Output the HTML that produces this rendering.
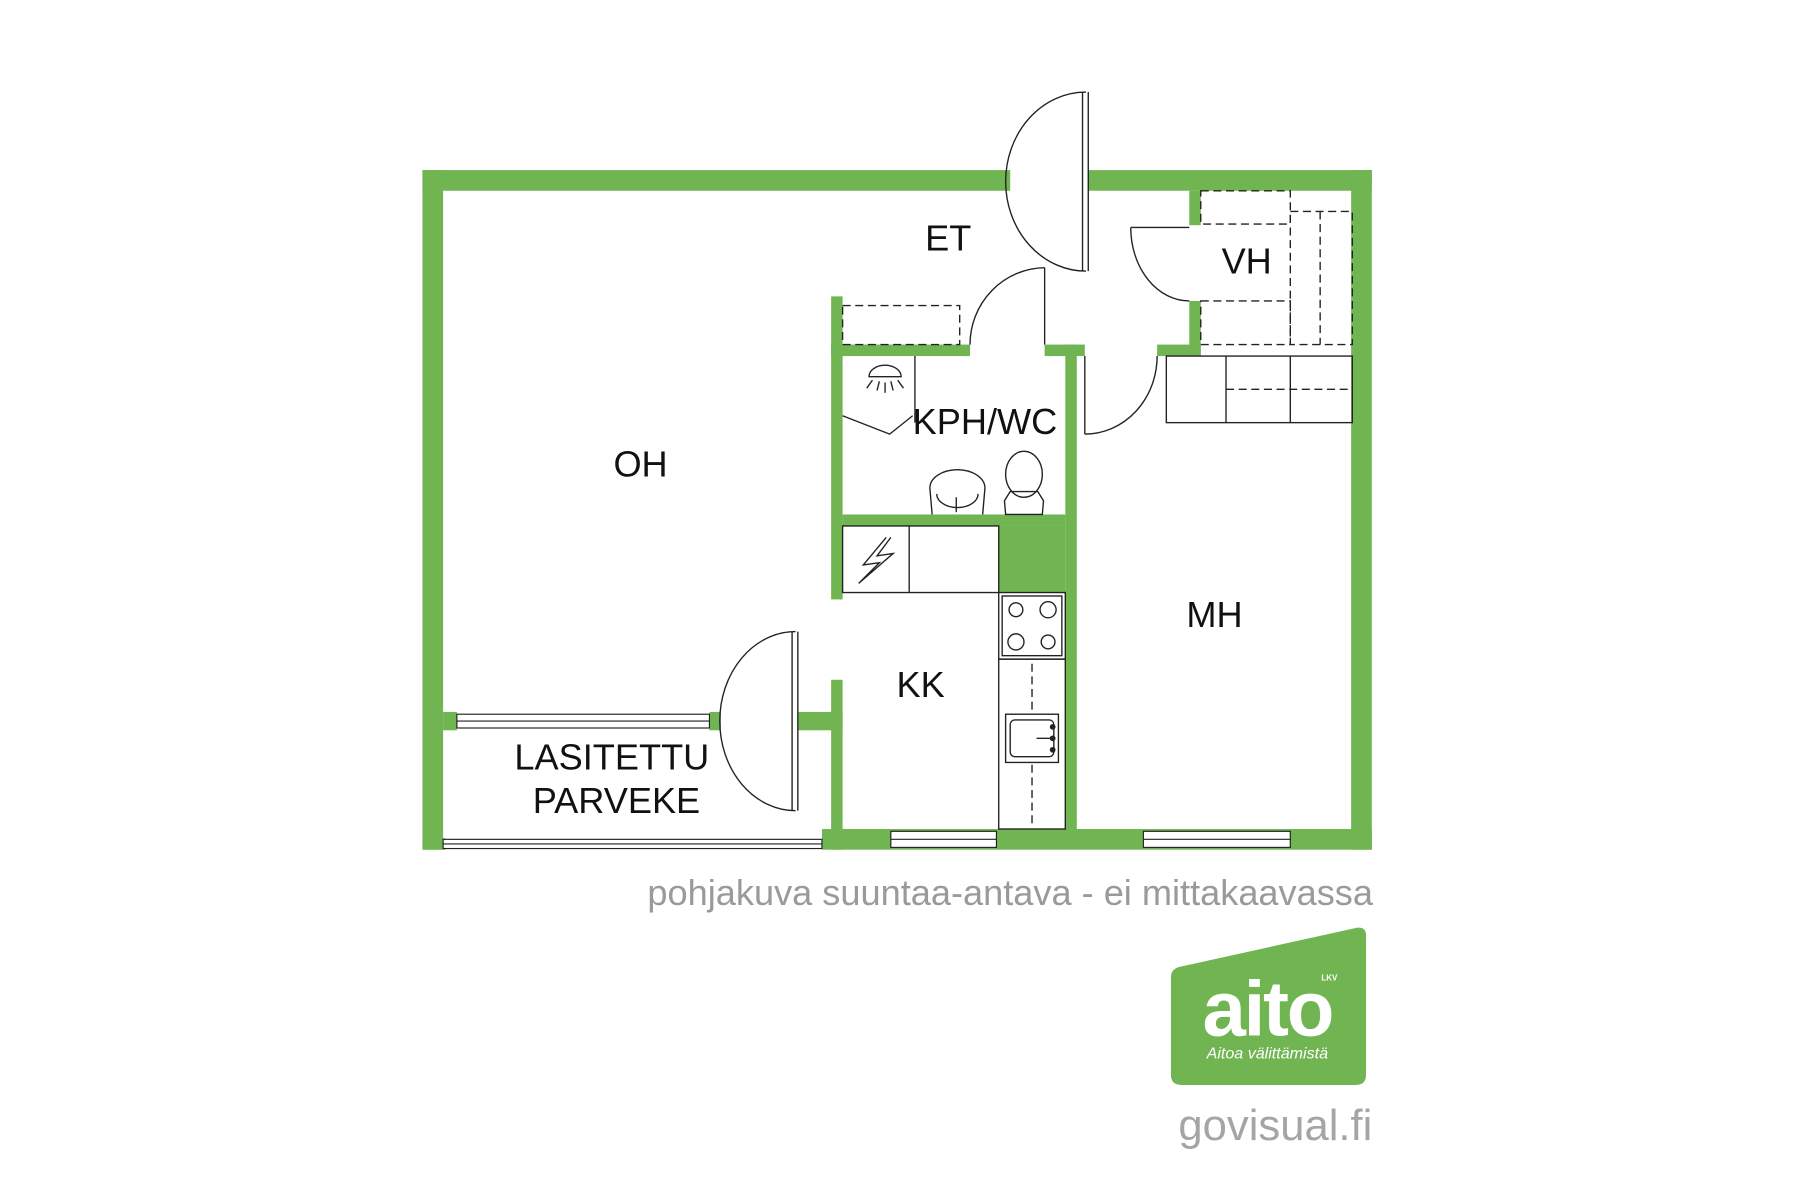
<!DOCTYPE html>
<html><head><meta charset="utf-8"><style>
html,body{margin:0;padding:0;background:#fff;width:1800px;height:1200px;overflow:hidden}
svg{display:block}
text{font-family:"Liberation Sans",Arial,sans-serif}
</style></head><body>
<svg width="1800" height="1200" viewBox="0 0 1568 1045" xmlns="http://www.w3.org/2000/svg">
<g fill="#70b552">
<rect x="368" y="148" width="512" height="18"/>
<rect x="948" y="148" width="247" height="18"/>
<rect x="368" y="148" width="18" height="592"/>
<rect x="1177" y="148" width="18" height="592"/>
<rect x="716" y="722" width="479" height="18"/>
<rect x="368" y="730" width="20" height="10"/>
<rect x="386" y="620" width="12" height="16"/>
<rect x="618" y="620" width="10" height="16"/>
<rect x="695" y="620" width="39" height="16"/>
<rect x="724" y="258" width="10" height="264"/>
<rect x="724" y="592" width="10" height="148"/>
<rect x="724" y="300" width="121" height="10"/>
<rect x="910" y="300" width="35" height="10"/>
<rect x="1008" y="300" width="38" height="10"/>
<rect x="928" y="300" width="10" height="422"/>
<rect x="734" y="448" width="194" height="10"/>
<rect x="870" y="458" width="58" height="58"/>
<rect x="1036" y="166" width="10" height="30"/>
<rect x="1036" y="262" width="10" height="48"/>
</g>
<g fill="#fff" stroke="#222" stroke-width="1">
<rect x="398" y="622" width="220" height="12"/><line x1="398" y1="628" x2="618" y2="628"/>
<rect x="386" y="731" width="330" height="8"/><line x1="386" y1="735" x2="716" y2="735"/>
<rect x="776" y="724" width="92" height="14"/><line x1="776" y1="731" x2="868" y2="731"/>
<rect x="996" y="724" width="128" height="14"/><line x1="996" y1="731" x2="1124" y2="731"/>
</g>
<g fill="none" stroke="#222" stroke-width="1.2">
<path d="M946 80 A70 78 0 0 0 946 236"/>
<line x1="943" y1="80" x2="943" y2="236"/><line x1="948" y1="80" x2="948" y2="236"/>
<path d="M693 550 A66 78 0 0 0 693 706"/>
<line x1="690" y1="550" x2="690" y2="706"/><line x1="695" y1="550" x2="695" y2="706"/>
<path d="M910 233 A66 67 0 0 0 845 300"/><line x1="910" y1="233" x2="910" y2="300"/>
<path d="M945 378 A63 68 0 0 0 1008 310"/><line x1="945" y1="310" x2="945" y2="378"/>
<path d="M985 198 A51 64 0 0 0 1036 262"/><line x1="985" y1="198" x2="1036" y2="198"/>
<g stroke-dasharray="7 4">
<rect x="734" y="266" width="102" height="34"/>
<rect x="1046" y="166" width="78" height="29"/>
<rect x="1046" y="262" width="78" height="38"/>
<rect x="1124" y="184" width="54" height="116"/>
<line x1="1150" y1="184" x2="1150" y2="300"/>
<line x1="1068" y1="339" x2="1178" y2="339"/>
<line x1="899" y1="578" x2="899" y2="720"/>
</g>
<rect x="1016" y="310" width="162" height="58"/>
<line x1="1068" y1="310" x2="1068" y2="368"/><line x1="1124" y1="310" x2="1124" y2="368"/>
<line x1="797" y1="310" x2="797" y2="368"/>
<polyline points="734,362 775,378 795,362"/>
<path d="M757 328 A14 10 0 0 1 785 328 Z"/>
<line x1="760" y1="331" x2="755" y2="338"/><line x1="766" y1="332" x2="764" y2="340"/><line x1="771" y1="333" x2="771" y2="342"/><line x1="776" y1="332" x2="778" y2="340"/><line x1="782" y1="331" x2="787" y2="338"/>
<path d="M812 448 L810 425 A24 16 0 0 1 858 425 L856 448"/>
<path d="M816 430 A18 12 0 0 0 852 430"/>
<line x1="833" y1="433" x2="833" y2="446"/>
<ellipse cx="892" cy="413" rx="16" ry="20"/>
<path d="M876 448 L875 436 L880 428 L904 428 L909 436 L908 448 Z"/>
<rect x="734" y="458" width="136" height="58"/><line x1="792" y1="458" x2="792" y2="516"/>
<polyline points="772,468 752,492 766,490 748,508 778,482 764,484 776,468"/>
<rect x="870" y="516" width="58" height="58"/>
<rect x="873" y="519" width="52" height="52"/>
<circle cx="885" cy="531" r="6"/><circle cx="913" cy="531" r="7"/><circle cx="885" cy="559" r="7"/><circle cx="913" cy="559" r="6"/>
<rect x="870" y="574" width="58" height="148"/>
<rect x="876" y="622" width="46" height="42" fill="#fff"/>
<rect x="880" y="627" width="38" height="32" rx="4"/>
<line x1="903" y1="643" x2="916" y2="643"/>
</g>
<g fill="#222"><circle cx="917" cy="633" r="2.5"/><circle cx="917" cy="643" r="2.5"/><circle cx="917" cy="653" r="2.5"/></g>
<g font-size="31.5" fill="#111" text-anchor="middle">
<text x="826" y="218">ET</text>
<text x="1086" y="238">VH</text>
<text x="858" y="378">KPH/WC</text>
<text x="558" y="415">OH</text>
<text x="1058" y="546">MH</text>
<text x="802" y="607">KK</text>
<text x="533" y="670">LASITETTU</text>
<text x="537" y="708">PARVEKE</text>
</g>
<text x="880" y="788" font-size="31.5" fill="#9a9a9a" text-anchor="middle">pohjakuva suuntaa-antava - ei mittakaavassa</text>
<path d="M1028 842 L1182 808 Q1190 807 1190 815 L1190 936 Q1190 945 1181 945 L1029 945 Q1020 945 1020 936 L1020 851 Q1020 844 1028 842 Z" fill="#70b552"/>
<text x="1104" y="902" font-size="68" font-weight="bold" fill="#fff" text-anchor="middle" letter-spacing="-2">aito</text>
<text x="1158" y="854" font-size="7" font-weight="bold" fill="#fff" text-anchor="middle">LKV</text>
<text x="1104" y="922" font-size="14" font-style="italic" fill="#fff" text-anchor="middle" font-family="Liberation Serif,serif">Aitoa välittämistä</text>
<text x="1111" y="993" font-size="38" fill="#a5a5a5" text-anchor="middle">govisual.fi</text>
</svg>
</body></html>
